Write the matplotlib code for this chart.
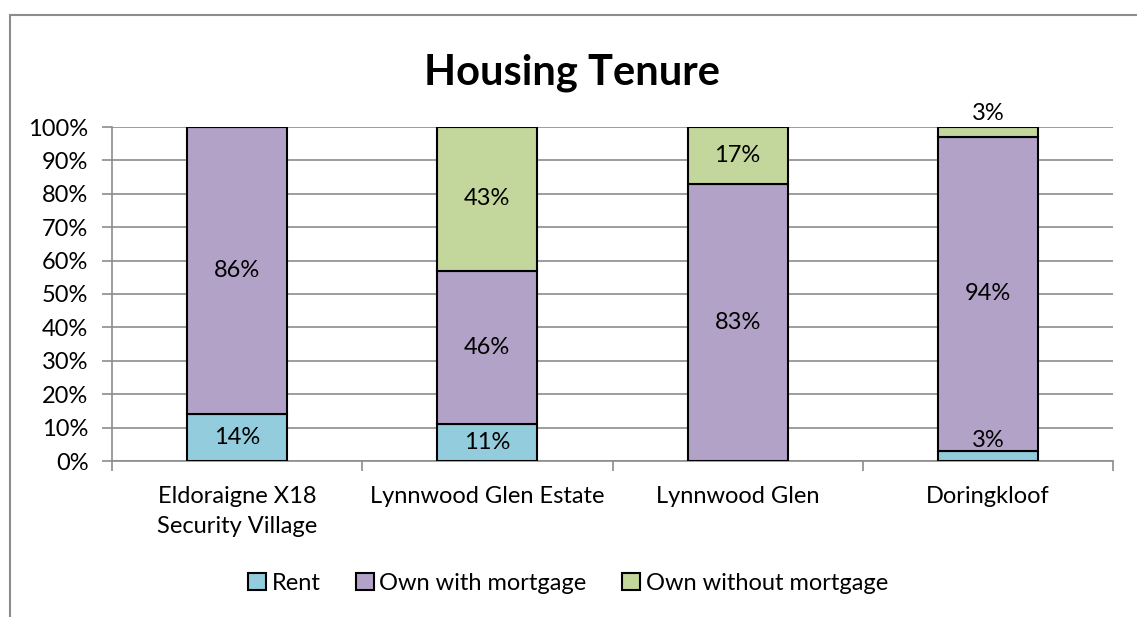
import matplotlib.pyplot as plt
from matplotlib.patches import Rectangle
import numpy as np

plt.rcParams['font.family'] = ['Lato', 'DejaVu Sans']

categories = ['Eldoraigne X18\nSecurity Village', 'Lynnwood Glen Estate', 'Lynnwood Glen', 'Doringkloof']
rent = [14, 11, 0, 3]
own_mortgage = [86, 46, 83, 94]
own_no_mortgage = [0, 43, 17, 3]

series = [('Rent', rent, '#93CDDD'),
          ('Own with mortgage', own_mortgage, '#B3A2C7'),
          ('Own without mortgage', own_no_mortgage, '#C3D69B')]

fig = plt.figure(figsize=(11.37, 6.17), dpi=100)
ax = fig.add_axes([112/1137, 1 - 461/617, (1113 - 112)/1137, (461 - 127)/617])

# chart border (only left and top visible in the original)
fig.patches.append(Rectangle((10/1137, -0.1), 1.2, 1 - 15/617 + 0.1, transform=fig.transFigure,
                             fill=False, edgecolor='#8c8c8c', linewidth=1.5))

x = np.arange(len(categories))
bottom = np.zeros(len(categories))
for i, (name, vals, color) in enumerate(series):
    vals = np.array(vals, dtype=float)
    ax.bar(x, vals, 0.4, bottom=bottom, color=color, edgecolor='black', linewidth=1.5,
           label=name, zorder=3)
    for xi, v, b in zip(x, vals, bottom):
        if v <= 0:
            continue
        y = b + v / 2
        if v < 5:
            # small segments: label pushed out of the thin slice
            y = b + v + 4.0 if i == 2 else b + v + 3.0
        ax.text(xi, y, f'{int(v)}%', ha='center', va='center', fontsize=17, zorder=4)
    bottom += vals

ax.set_xlim(-0.5, len(categories) - 0.5)
ax.set_ylim(0, 100)
ax.set_yticks(np.arange(0, 101, 10))
ax.set_yticklabels([f'{t}%' for t in range(0, 101, 10)], fontsize=17)
ax.yaxis.grid(True, color='#8c8c8c', linewidth=1.2, zorder=0)
ax.set_axisbelow(True)

ax.set_xticks(x)
ax.set_xticklabels(categories, fontsize=17, linespacing=1.55)
ax.set_xticks(np.arange(-0.5, len(categories)), minor=True)
ax.tick_params(axis='x', which='major', length=0, pad=18)
ax.tick_params(axis='x', which='minor', length=7, color='#8c8c8c', width=1.2)
ax.tick_params(axis='y', length=7, color='#8c8c8c', width=1.2, pad=10)

for side in ['top', 'right']:
    ax.spines[side].set_visible(False)
for side in ['left', 'bottom']:
    ax.spines[side].set_color('#8c8c8c')
    ax.spines[side].set_linewidth(1.2)

fig.text(572/1137, 1 - 73/617, 'Housing Tenure', ha='center', va='center',
         fontsize=30, fontweight='bold')

fig.legend(loc='center', bbox_to_anchor=(568/1137, 1 - 583/617), ncol=3, frameon=False,
           fontsize=17, handlelength=0.75, handleheight=0.75, handletextpad=0.25, columnspacing=1.5)

fig.savefig('out.png', dpi=100)
